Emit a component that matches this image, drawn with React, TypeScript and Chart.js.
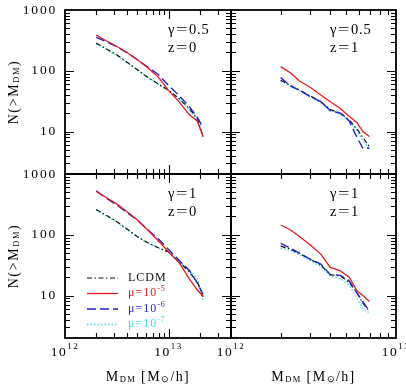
import React, { useEffect, useRef } from 'react';
import { Chart, registerables } from 'chart.js';

Chart.register(...registerables);

const W = 406;
const H = 386;
const SERIF = '"Liberation Serif", "Times New Roman", serif';

// Halo mass thresholds M_DM [M_sun/h]
const massLeft = [2.0e12, 2.5e12, 3.2e12, 4.0e12, 5.0e12, 6.3e12, 8.0e12, 1.0e13, 1.26e13, 1.58e13, 1.9e13, 2.15e13];
const massRight = [2.0e12, 2.3e12, 2.6e12, 3.0e12, 3.5e12, 4.0e12, 4.6e12, 5.2e12, 5.8e12, 6.3e12, 6.9e12];

// gamma = 0.5, z = 0 : cumulative counts N(>M_DM)
const g05z0Mu5 = [385, 312, 248, 198, 152, 112, 78, 47, 31, 19, 14.8, 8.3];
const g05z0Mu6 = [355, 300, 247, 197, 152, 115, 86, 57, 39, 26, 17, 11.5];
const g05z0Lcdm = [285, 230, 180, 137, 104, 78, 60, 48, 35, 24, 16, 8.3];
const g05z0Mu7 = [278, 226, 177, 135, 102, 77, 59, 47, 34, 23, 15, 7.7];

// gamma = 0.5, z = 1
const g05z1Mu5 = [117, 92, 68, 54, 40, 31, 24, 17.8, 14, 10, 8.3];
const g05z1Mu6 = [77, 56, 48, 38, 31, 22, 20, 15, 8, 5.3, 5.3];
const g05z1Lcdm = [70, 57, 48, 39, 31, 23, 20, 15.5, 11, 8, 5.6];
const g05z1Mu7 = [67, 56, 47, 38, 30, 22, 19.5, 15, 10.5, 7, 5.2];

// gamma = 1, z = 0
const g1z0Mu5 = [515, 410, 316, 237, 175, 120, 79, 52, 35, 19, 12.2, 9.8];
const g1z0Mu6 = [530, 400, 305, 228, 175, 120, 85, 57, 38, 26, 16, 10.5];
const g1z0Lcdm = [260, 210, 162, 123, 93, 74, 61, 52, 36, 24.5, 16.6, 9.5];
const g1z0Mu7 = [255, 205, 160, 120, 92, 73, 60, 51, 37, 26, 19, 7.9];

// gamma = 1, z = 1
const g1z1Mu5 = [145, 120, 94, 69, 48, 29, 25.5, 20, 12, 10, 8];
const g1z1Mu6 = [72, 60, 50, 40, 33, 22, 21.5, 17.5, 11, 7.9, 5.5];
const g1z1Lcdm = [65, 58, 49, 40, 32, 22, 21, 16.5, 11, 7.5, 5.5];
const g1z1Mu7 = [60, 55, 47, 38, 30, 21, 19, 15, 9, 6, 5.2];

// Axis ranges and tick values
const yMin = 2;
const yMax = 1000;
const xMin = 1e12;
const xMaxLeft = 4e13;
const xMaxRight = 1e13;
const majorDecades = [1e12, 1e13, 1e14];
const yMajor = [1, 10, 100, 1000];
const minorMult = [2, 3, 4, 5, 6, 7, 8, 9];

type Seg = { t: string; size: number; dy?: number };

type SeriesStyle = {
  label: string;
  sup: string;
  color: string;
  textColor: string;
  width: number;
  dash: number[];
};

// Drawn top-most first
const STYLES: SeriesStyle[] = [
  { label: 'μ=10', sup: '-5', color: '#e8191c', textColor: '#e8191c', width: 1.3, dash: [] },
  { label: 'μ=10', sup: '-6', color: '#2222d6', textColor: '#2222d6', width: 1.4, dash: [9, 4] },
  { label: 'LCDM', sup: '', color: '#111111', textColor: '#111111', width: 1.2, dash: [5, 2.5, 1.5, 2.5] },
  { label: 'μ=10', sup: '-7', color: '#3fdede', textColor: '#3fdede', width: 1.4, dash: [1.5, 2] },
];

type Panel = {
  box: [number, number, number, number];
  xMax: number;
  mass: number[];
  series: number[][];
  gamma: string;
  z: string;
  labelX: number;
  xLabels: boolean;
  yLabels: boolean;
  legend: boolean;
};

const PANELS: Panel[] = [
  { box: [65, 10, 231, 174], xMax: xMaxLeft, mass: massLeft, series: [g05z0Mu5, g05z0Mu6, g05z0Lcdm, g05z0Mu7], gamma: '0.5', z: '0', labelX: 168, xLabels: false, yLabels: true, legend: false },
  { box: [231, 10, 396, 174], xMax: xMaxRight, mass: massRight, series: [g05z1Mu5, g05z1Mu6, g05z1Lcdm, g05z1Mu7], gamma: '0.5', z: '1', labelX: 330, xLabels: false, yLabels: false, legend: false },
  { box: [65, 174, 231, 338], xMax: xMaxLeft, mass: massLeft, series: [g1z0Mu5, g1z0Mu6, g1z0Lcdm, g1z0Mu7], gamma: '1', z: '0', labelX: 168, xLabels: true, yLabels: true, legend: true },
  { box: [231, 174, 396, 338], xMax: xMaxRight, mass: massRight, series: [g1z1Mu5, g1z1Mu6, g1z1Lcdm, g1z1Mu7], gamma: '1', z: '1', labelX: 330, xLabels: true, yLabels: false, legend: false },
];

function setSpacing(ctx: CanvasRenderingContext2D, px: number) {
  (ctx as any).letterSpacing = `${px}px`;
}

function richWidth(ctx: CanvasRenderingContext2D, segs: Seg[]) {
  let w = 0;
  for (const s of segs) {
    ctx.font = `${s.size}px ${SERIF}`;
    w += ctx.measureText(s.t).width;
  }
  return w;
}

function drawRich(ctx: CanvasRenderingContext2D, segs: Seg[], x: number, y: number, align: 'left' | 'center' | 'right') {
  const w = richWidth(ctx, segs);
  let cx = align === 'left' ? x : align === 'center' ? x - w / 2 : x - w;
  ctx.textAlign = 'left';
  ctx.textBaseline = 'middle';
  for (const s of segs) {
    ctx.font = `${s.size}px ${SERIF}`;
    ctx.fillText(s.t, cx, y + (s.dy || 0));
    cx += ctx.measureText(s.t).width;
  }
}

const panelDecor = {
  id: 'panelDecor',
  afterDatasetsDraw(chart: any, _args: any, opts: any) {
    const p: Panel = opts.panel;
    const ctx: CanvasRenderingContext2D = chart.ctx;
    const { left, top, right, bottom } = chart.chartArea;
    const xs = chart.scales.x;
    const ys = chart.scales.y;
    ctx.save();
    ctx.strokeStyle = '#000';
    ctx.fillStyle = '#000';
    ctx.setLineDash([]);

    // frame
    ctx.lineWidth = 1.8;
    ctx.strokeRect(left, top, right - left, bottom - top);

    // inward ticks on all four sides
    ctx.lineWidth = 1.1;
    const xTicks: [number, boolean][] = [];
    for (const d of majorDecades) {
      xTicks.push([d, true]);
      for (const m of minorMult) xTicks.push([d * m, false]);
    }
    for (const [v, major] of xTicks) {
      if (v <= xMin || v >= p.xMax) continue;
      const px = Math.round(xs.getPixelForValue(v)) + 0.5;
      const len = major ? 9 : 5;
      ctx.beginPath();
      ctx.moveTo(px, bottom);
      ctx.lineTo(px, bottom - len);
      ctx.moveTo(px, top);
      ctx.lineTo(px, top + len);
      ctx.stroke();
    }
    const yTicks: [number, boolean][] = [];
    for (const d of yMajor) {
      yTicks.push([d, true]);
      if (d < 1000) for (const m of minorMult) yTicks.push([d * m, false]);
    }
    for (const [v, major] of yTicks) {
      if (v <= yMin || v >= yMax) continue;
      const py = Math.round(ys.getPixelForValue(v)) + 0.5;
      const len = major ? 9 : 5;
      ctx.beginPath();
      ctx.moveTo(left, py);
      ctx.lineTo(left + len, py);
      ctx.moveTo(right, py);
      ctx.lineTo(right - len, py);
      ctx.stroke();
    }

    // y tick labels
    if (p.yLabels) {
      setSpacing(ctx, 1.8);
      for (const v of yMajor) {
        if (v < yMin || v > yMax) continue;
        const py = ys.getPixelForValue(v);
        drawRich(ctx, [{ t: String(v), size: 13.5 }], left - 8, py, 'right');
      }
      // y title
      setSpacing(ctx, 1.6);
      ctx.save();
      ctx.translate(14, (top + bottom) / 2);
      ctx.rotate(-Math.PI / 2);
      drawRich(ctx, [
        { t: 'N(>M', size: 14 },
        { t: 'DM', size: 8.5, dy: 3 },
        { t: ')', size: 14 },
      ], 0, 0, 'center');
      ctx.restore();
    }

    // x tick labels
    if (p.xLabels) {
      setSpacing(ctx, 1.5);
      for (const d of majorDecades) {
        if (d < xMin || d > p.xMax) continue;
        const px = xs.getPixelForValue(d);
        const exp = String(Math.round(Math.log10(d)));
        drawRich(ctx, [
          { t: '10', size: 13.5 },
          { t: exp, size: 9, dy: -5 },
        ], px, 352, 'center');
      }
      setSpacing(ctx, 1.4);
      drawRich(ctx, [
        { t: 'M', size: 14 },
        { t: 'DM', size: 8.5, dy: 3 },
        { t: ' [M', size: 14 },
        { t: '⊙', size: 9, dy: 3 },
        { t: '/h]', size: 14 },
      ], (left + right) / 2, 377, 'center');
    }

    // gamma / z annotation
    setSpacing(ctx, 0.5);
    const lx = p.labelX;
    const rows: [string, string, number][] = [['γ', p.gamma, top + 20], ['z', p.z, top + 38]];
    for (const [sym, val, yy] of rows) {
      drawRich(ctx, [{ t: sym, size: 14.5 }], lx, yy, 'left');
      ctx.save();
      ctx.font = `15px ${SERIF}`;
      ctx.textAlign = 'left';
      ctx.textBaseline = 'middle';
      ctx.setTransform(1.35, 0, 0, 1, (lx + 8) * (1 - 1.35), 0);
      ctx.fillText('=', lx + 8, yy);
      ctx.restore();
      setSpacing(ctx, 0.8);
      drawRich(ctx, [{ t: val, size: 14.5 }], lx + 21, yy, 'left');
      setSpacing(ctx, 0.5);
    }

    // legend
    if (p.legend) {
      const rowsY = [277.5, 293, 308.5, 324];
      const order = [2, 0, 1, 3];
      order.forEach((si, i) => {
        const st = STYLES[si];
        const yy = rowsY[i];
        ctx.save();
        ctx.strokeStyle = st.color;
        ctx.lineWidth = st.width;
        ctx.setLineDash(st.dash);
        ctx.beginPath();
        ctx.moveTo(87, yy + 0.5);
        ctx.lineTo(118, yy + 0.5);
        ctx.stroke();
        ctx.restore();
        ctx.fillStyle = st.textColor;
        setSpacing(ctx, 1);
        const segs: Seg[] = [{ t: st.label, size: 12 }];
        if (st.sup) segs.push({ t: st.sup, size: 8, dy: -4 });
        drawRich(ctx, segs, 128, yy, 'left');
      });
    }

    setSpacing(ctx, 0);
    ctx.restore();
  },
};

function buildChart(canvas: HTMLCanvasElement, p: Panel) {
  const [l, t, r, b] = p.box;
  return new Chart(canvas, {
    type: 'line',
    data: {
      datasets: p.series.map((vals, i) => ({
        data: p.mass.map((m, j) => ({ x: m, y: vals[j] })),
        borderColor: STYLES[i].color,
        borderWidth: STYLES[i].width,
        borderDash: STYLES[i].dash,
        pointRadius: 0,
        tension: 0,
        fill: false,
      })),
    },
    options: {
      responsive: false,
      animation: false,
      events: [],
      layout: { padding: { left: l, top: t, right: W - r, bottom: H - b } },
      scales: {
        x: { type: 'logarithmic', min: xMin, max: p.xMax, display: false },
        y: { type: 'logarithmic', min: yMin, max: yMax, display: false },
      },
      plugins: {
        legend: { display: false },
        tooltip: { enabled: false },
        panelDecor: { panel: p },
      } as any,
    },
    plugins: [panelDecor as any],
  });
}

function PanelCanvas({ panel }: { panel: Panel }) {
  const ref = useRef<HTMLCanvasElement | null>(null);
  useEffect(() => {
    if (!ref.current) return;
    const chart = buildChart(ref.current, panel);
    return () => chart.destroy();
  }, [panel]);
  return (
    <canvas
      ref={ref}
      width={W}
      height={H}
      style={{ position: 'absolute', left: 0, top: 0, width: W, height: H }}
    />
  );
}

export default function App() {
  useEffect(() => {
    document.body.style.margin = '0';
  }, []);
  return (
    <div style={{ position: 'fixed', left: 0, top: 0, width: W, height: H, background: '#fff', overflow: 'hidden' }}>
      {PANELS.map((p, i) => (
        <PanelCanvas key={i} panel={p} />
      ))}
    </div>
  );
}
